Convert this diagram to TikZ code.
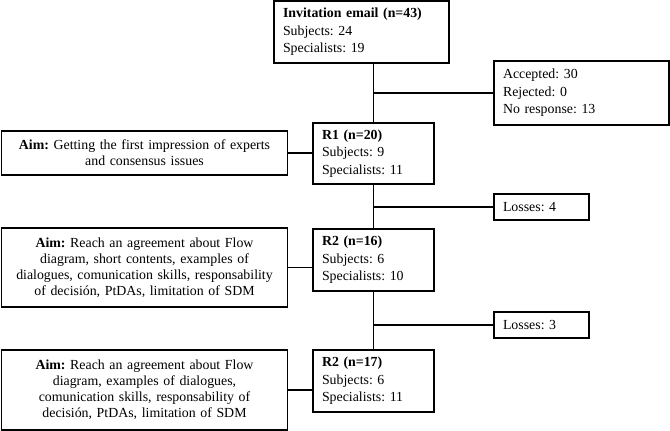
\documentclass[tikz,border=0pt]{standalone}
\usepackage{fontspec}
\setmainfont{Liberation Serif}
\usepackage{tikz}
\usetikzlibrary{positioning}
\frenchspacing

\begin{document}
\begin{tikzpicture}[x=0.75pt, y=-0.75pt,
    block/.style={rectangle, draw, line width=1.2pt, inner xsep=6.75pt, inner ysep=0pt,
      font=\fontsize{10.4}{13.1}\selectfont},
    count/.style={block, align=left, text width=#1},
    aim/.style={block, align=center, inner xsep=2pt, text width=210.5pt, minimum width=214.5pt,
      font=\fontsize{10.4}{12}\selectfont},
    line/.style={draw, line width=1pt}]

    \useasboundingbox (0,0) rectangle (670,431);

    % central column
    \node [count=117.75pt, minimum height=46.5pt] (invite) at (361.5,32)
      {\textbf{Invitation email (n=43)}\\Subjects: 24\\Specialists: 19};
    \node [count=77.25pt, minimum height=45.75pt] (r1) at (373.5,153.5)
      {\textbf{R1 (n=20)}\\Subjects: 9\\Specialists: 11};
    \node [count=77.25pt, minimum height=46.5pt] (r2) at (373.5,260)
      {\textbf{R2 (n=16)}\\Subjects: 6\\Specialists: 10};
    \node [count=77.25pt, minimum height=46.5pt] (r3) at (373.5,381)
      {\textbf{R2 (n=17)}\\Subjects: 6\\Specialists: 11};

    % right side
    \node [count=117.75pt, minimum height=48pt] (accepted) at (581.5,93)
      {Accepted: 30\\Rejected: 0\\No response: 13};
    \node [count=57.75pt, minimum height=19.5pt] (loss4) at (541.5,207) {Losses: 4};
    \node [count=57.75pt, minimum height=19.5pt] (loss3) at (541.5,325) {Losses: 3};

    % left side
    \node [aim, minimum height=33pt] (aim1) at (144.5,153)
      {\textbf{Aim:} Getting the first impression of experts\\and consensus issues};
    \node [aim, minimum height=59.25pt] (aim2) at (144.5,267.5)
      {\textbf{Aim:} Reach an agreement about Flow\\diagram, short contents, examples of\\dialogues, comunication skills, responsability\\of decisión, PtDAs, limitation of SDM};
    \node [aim, minimum height=60pt] (aim3) at (144.5,390)
      {\textbf{Aim:} Reach an agreement about Flow\\diagram, examples of dialogues,\\comunication skills, responsability of\\decisión, PtDAs, limitation of SDM};

    \path [line] (invite.south -| r1.north) -- (r1.north);
    \path [line] (r1.south) -- (r2.north);
    \path [line] (r2.south) -- (r3.north);

    \path [line] (accepted.west) -- (accepted.west -| r1.north);
    \path [line] (loss4.west) -- (loss4.west -| r1.north);
    \path [line] (loss3.west) -- (loss3.west -| r2.north);

    \path [line] (aim1.east) -- (aim1.east -| r1.west);
    \path [line] (aim2.east) -- (aim2.east -| r2.west);
    \path [line] (aim3.east) -- (aim3.east -| r3.west);
\end{tikzpicture}
\end{document}
